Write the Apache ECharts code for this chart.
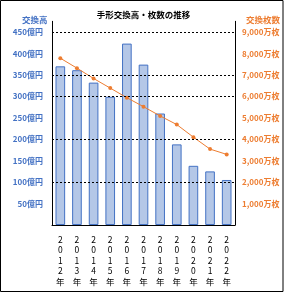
<!DOCTYPE html>
<html>
<head>
<meta charset="utf-8">
<script src="https://cdn.jsdelivr.net/npm/echarts@6/dist/echarts.min.js"></script>
<style>
html,body{margin:0;padding:0;background:#fff;}
#c{width:287px;height:297px;}
</style>
</head>
<body>
<div id="c"></div>
<script>
const categories = ['2012年','2013年','2014年','2015年','2016年','2017年','2018年','2019年','2020年','2021年','2022年'];
const amountValues = [370, 361, 332, 299, 423, 374, 260, 188, 138, 125, 105];   // 億円
const countValues = [7780, 7315, 6833, 6385, 5937, 5519, 5087, 4684, 4096, 3540, 3293]; // 万枚
const gridLineValues = [450, 350, 300, 200, 100];

const FONT = '"Noto Sans CJK JP", "Noto Sans", sans-serif';
const BLUE = '#4472C4';
const ORANGE = '#ED7D31';

const chart = echarts.init(document.getElementById('c'), null, {renderer: 'canvas'});
chart.setOption({
  animation: false,
  backgroundColor: '#fff',
  title: [
    {text: '手形交換高・枚数の推移', left: 'center', top: 6,
     textStyle: {fontFamily: FONT, fontSize: 8.5, fontWeight: 'bold', color: '#000'}},
    {text: '交換高', left: 17, top: 11,
     textStyle: {fontFamily: FONT, fontSize: 8.5, fontWeight: 'bold', color: BLUE}},
    {text: '交換枚数', left: 241, top: 11,
     textStyle: {fontFamily: FONT, fontSize: 8.5, fontWeight: 'bold', color: ORANGE}}
  ],
  graphic: [{
    type: 'rect', silent: true, z: 100,
    shape: {x: 0.5, y: 0.5, width: 282.5, height: 291},
    style: {fill: 'none', stroke: '#000', lineWidth: 1}
  }],
  grid: {left: 52, right: 52, top: 21.3, bottom: 72, containLabel: false},
  xAxis: {
    type: 'category',
    data: categories,
    axisLine: {show: true, lineStyle: {color: '#000', width: 1}},
    axisTick: {show: false},
    axisLabel: {
      interval: 0, margin: 9,
      fontFamily: FONT, fontSize: 8.5, lineHeight: 10.6, color: '#000',
      formatter: v => v.split('').join('\n')
    }
  },
  yAxis: [
    {
      type: 'value', min: 0, max: 475, interval: 50,
      axisLine: {show: true, lineStyle: {color: '#000', width: 1}},
      axisTick: {show: false},
      splitLine: {show: false},
      axisLabel: {
        margin: 9, fontFamily: FONT, fontSize: 8, fontWeight: 'bold', color: BLUE,
        formatter: v => (v === 0 || v > 450) ? '' : v + '億円'
      }
    },
    {
      type: 'value', min: 0, max: 9500, interval: 1000,
      axisLine: {show: true, lineStyle: {color: '#000', width: 1}},
      axisTick: {show: false},
      splitLine: {show: false},
      axisLabel: {
        margin: 7, fontFamily: FONT, fontSize: 8, fontWeight: 'bold', color: ORANGE,
        formatter: v => (v === 0 || v > 9000) ? '' : v.toLocaleString('en-US') + '万枚'
      }
    }
  ],
  series: [
    {
      name: 'grid', type: 'line', yAxisIndex: 0, data: [], z: 1, silent: true,
      markLine: {
        silent: true, symbol: 'none', label: {show: false},
        lineStyle: {color: '#000', width: 1, type: [2, 2]},
        data: gridLineValues.map(v => ({yAxis: v}))
      }
    },
    {
      name: '交換高', type: 'bar', yAxisIndex: 0, data: amountValues, z: 3,
      barWidth: '58%',
      itemStyle: {color: '#B4C7E7', borderColor: BLUE, borderWidth: 1}
    },
    {
      name: '交換枚数', type: 'line', yAxisIndex: 1, data: countValues, z: 4,
      symbol: 'circle', symbolSize: 4,
      lineStyle: {color: ORANGE, width: 1},
      itemStyle: {color: ORANGE}
    }
  ]
});
</script>
</body>
</html>
